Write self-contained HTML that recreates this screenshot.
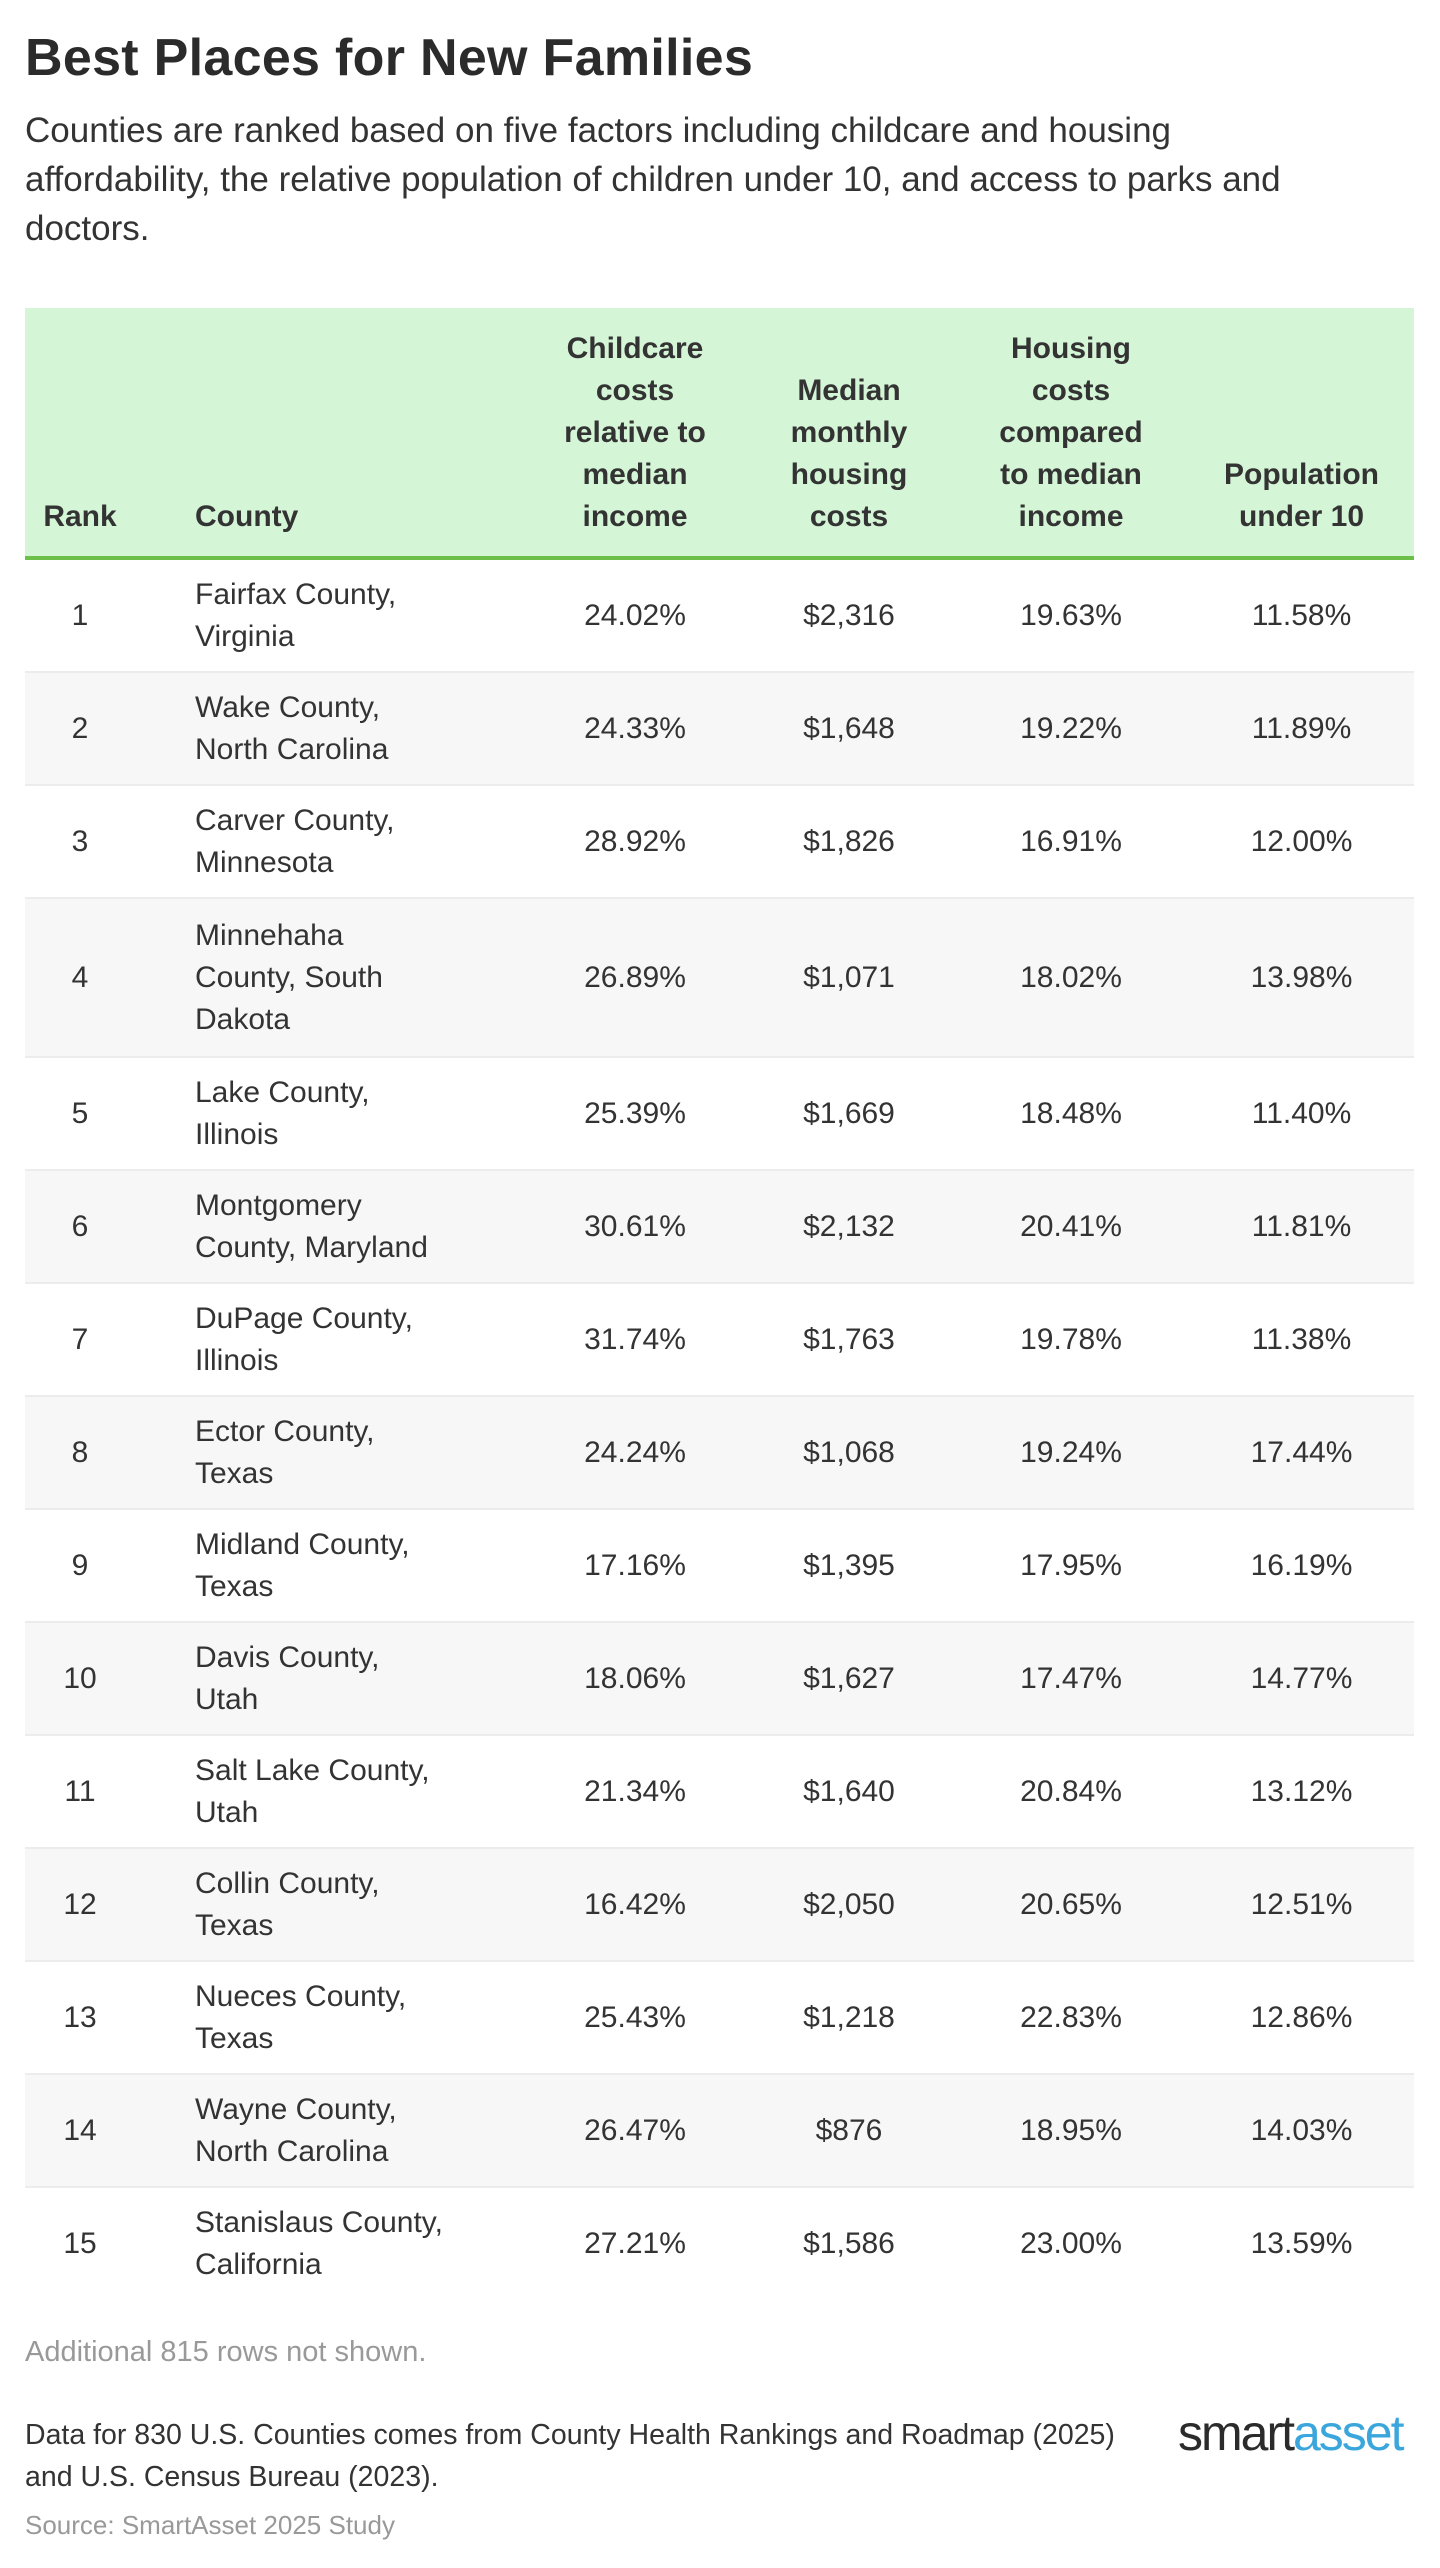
<!DOCTYPE html>
<html><head><meta charset="utf-8"><style>
body{margin:0;width:1440px;height:2568px;background:#fff;font-family:"Liberation Sans",sans-serif;color:#333;position:relative;overflow:hidden}
h1{position:absolute;left:25px;top:28px;margin:0;font-size:52px;font-weight:bold;color:#2b2b2b;letter-spacing:0.3px}
.sub{position:absolute;left:25px;top:106px;width:1410px;font-size:35px;line-height:49px;color:#333}
table{position:absolute;left:25px;top:308px;width:1389px;border-collapse:collapse;font-size:30px}
th{background:#d4f5d6;font-weight:bold;line-height:42px;vertical-align:bottom;padding:0 0 18px 0;height:230px;border-bottom:4px solid #6cc04a}
td{line-height:42px;border-bottom:2px solid #ececec;height:111px;padding:0}
tr.t td{height:157px}
tr:nth-child(even) td{background:#f7f7f7}
.c{text-align:center}
.l{text-align:left}
.foot1{position:absolute;left:25px;top:2336px;font-size:29px;color:#999}
.foot2{position:absolute;left:25px;top:2414px;font-size:28.5px;line-height:42px;color:#333}
.foot3{position:absolute;left:25px;top:2510px;font-size:26px;color:#999}
.logo{position:absolute;left:1178px;top:2404px;font-size:50px;letter-spacing:-2px;color:#2b2b2b}
.logo span{color:#3aa6dc}
</style></head><body>
<h1>Best Places for New Families</h1>
<div class="sub">Counties are ranked based on five factors including childcare and housing<br>affordability, the relative population of children under 10, and access to parks and<br>doctors.</div>
<table>
<colgroup><col style="width:110px"><col style="width:390px"><col style="width:220px"><col style="width:208px"><col style="width:236px"><col style="width:225px"></colgroup>
<thead><tr><th class="c">Rank</th><th class="l" style="padding-left:60px">County</th><th class="c">Childcare<br>costs<br>relative to<br>median<br>income</th><th class="c">Median<br>monthly<br>housing<br>costs</th><th class="c">Housing<br>costs<br>compared<br>to median<br>income</th><th class="c">Population<br>under 10</th></tr></thead>
<tbody>
<tr><td class="c">1</td><td style="padding-left:60px">Fairfax County,<br>Virginia</td><td class="c">24.02%</td><td class="c">$2,316</td><td class="c">19.63%</td><td class="c">11.58%</td></tr>
<tr><td class="c">2</td><td style="padding-left:60px">Wake County,<br>North Carolina</td><td class="c">24.33%</td><td class="c">$1,648</td><td class="c">19.22%</td><td class="c">11.89%</td></tr>
<tr><td class="c">3</td><td style="padding-left:60px">Carver County,<br>Minnesota</td><td class="c">28.92%</td><td class="c">$1,826</td><td class="c">16.91%</td><td class="c">12.00%</td></tr>
<tr class="t"><td class="c">4</td><td style="padding-left:60px">Minnehaha<br>County, South<br>Dakota</td><td class="c">26.89%</td><td class="c">$1,071</td><td class="c">18.02%</td><td class="c">13.98%</td></tr>
<tr><td class="c">5</td><td style="padding-left:60px">Lake County,<br>Illinois</td><td class="c">25.39%</td><td class="c">$1,669</td><td class="c">18.48%</td><td class="c">11.40%</td></tr>
<tr><td class="c">6</td><td style="padding-left:60px">Montgomery<br>County, Maryland</td><td class="c">30.61%</td><td class="c">$2,132</td><td class="c">20.41%</td><td class="c">11.81%</td></tr>
<tr><td class="c">7</td><td style="padding-left:60px">DuPage County,<br>Illinois</td><td class="c">31.74%</td><td class="c">$1,763</td><td class="c">19.78%</td><td class="c">11.38%</td></tr>
<tr><td class="c">8</td><td style="padding-left:60px">Ector County,<br>Texas</td><td class="c">24.24%</td><td class="c">$1,068</td><td class="c">19.24%</td><td class="c">17.44%</td></tr>
<tr><td class="c">9</td><td style="padding-left:60px">Midland County,<br>Texas</td><td class="c">17.16%</td><td class="c">$1,395</td><td class="c">17.95%</td><td class="c">16.19%</td></tr>
<tr><td class="c">10</td><td style="padding-left:60px">Davis County,<br>Utah</td><td class="c">18.06%</td><td class="c">$1,627</td><td class="c">17.47%</td><td class="c">14.77%</td></tr>
<tr><td class="c">11</td><td style="padding-left:60px">Salt Lake County,<br>Utah</td><td class="c">21.34%</td><td class="c">$1,640</td><td class="c">20.84%</td><td class="c">13.12%</td></tr>
<tr><td class="c">12</td><td style="padding-left:60px">Collin County,<br>Texas</td><td class="c">16.42%</td><td class="c">$2,050</td><td class="c">20.65%</td><td class="c">12.51%</td></tr>
<tr><td class="c">13</td><td style="padding-left:60px">Nueces County,<br>Texas</td><td class="c">25.43%</td><td class="c">$1,218</td><td class="c">22.83%</td><td class="c">12.86%</td></tr>
<tr><td class="c">14</td><td style="padding-left:60px">Wayne County,<br>North Carolina</td><td class="c">26.47%</td><td class="c">$876</td><td class="c">18.95%</td><td class="c">14.03%</td></tr>
<tr><td class="c" style="border-bottom:none">15</td><td style="padding-left:60px;border-bottom:none">Stanislaus County,<br>California</td><td class="c" style="border-bottom:none">27.21%</td><td class="c" style="border-bottom:none">$1,586</td><td class="c" style="border-bottom:none">23.00%</td><td class="c" style="border-bottom:none">13.59%</td></tr>
</tbody></table>
<div class="foot1">Additional 815 rows not shown.</div>
<div class="foot2">Data for 830 U.S. Counties comes from County Health Rankings and Roadmap (2025)<br>and U.S. Census Bureau (2023).</div>
<div class="foot3">Source: SmartAsset 2025 Study</div>
<div class="logo">smart<span>asset</span></div>
</body></html>
